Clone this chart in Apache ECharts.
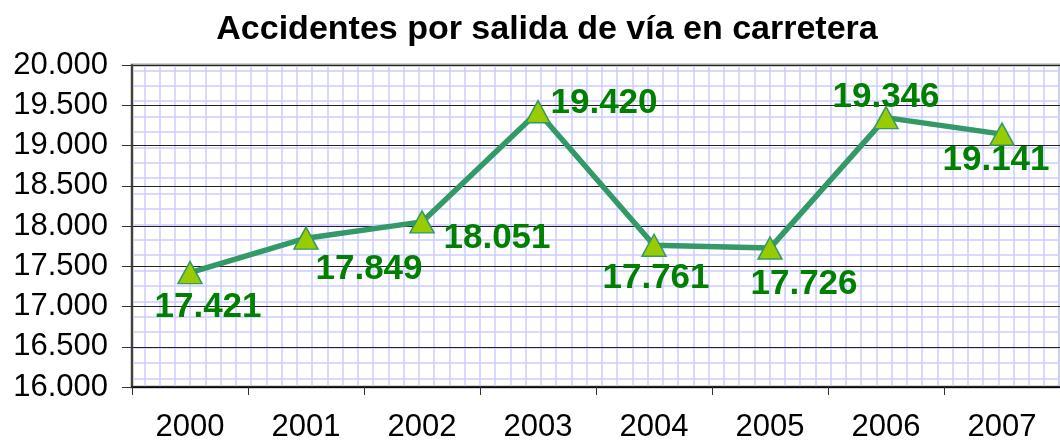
<!DOCTYPE html>
<html>
<head>
<meta charset="utf-8">
<script src="https://cdn.jsdelivr.net/npm/echarts@6/dist/echarts.min.js"></script>
<style>
  html, body { margin: 0; padding: 0; background: #fff; }
  #chart { width: 1060px; height: 443px; }
</style>
</head>
<body>
<div id="chart"></div>
<script>
// data
const years = ['2000', '2001', '2002', '2003', '2004', '2005', '2006', '2007'];
const accidents = [17421, 17849, 18051, 19420, 17761, 17726, 19346, 19141];
const yTicks = [16000, 16500, 17000, 17500, 18000, 18500, 19000, 19500, 20000];

// where each value label sits relative to its point
const labelShift = [[18, 35], [63, 31], [75, 16], [66, -8], [2, 33], [34, 36], [0, -20], [-6, 26]];

const font = 'Liberation Sans, Arial, sans-serif';
const lavender = '#ccccff';

function dots(v) {
  return String(v).replace(/\B(?=(\d{3})+(?!\d))/g, '.');
}

const chart = echarts.init(document.getElementById('chart'));

const option = {
  animation: false,
  title: {
    text: 'Accidentes por salida de vía en carretera',
    left: 542,
    textAlign: 'center',
    top: 8,
    textStyle: { fontFamily: font, fontSize: 34, fontWeight: 'bold', color: '#000' }
  },
  grid: [
    // main plot
    { left: 132, right: -9, top: 65, bottom: 55, show: true, borderColor: '#a6a6a6', borderWidth: 3, backgroundColor: 'transparent' },
    // lavender horizontal lines
    { left: 132, right: -9, top: 70.3, bottom: 64.7 },
    // lavender vertical lines
    { left: 144.3, right: -9, top: 65, bottom: 55 }
  ],
  xAxis: [
    {
      type: 'category',
      gridIndex: 0,
      data: years,
      z: 3,
      axisLine: { lineStyle: { color: '#000', width: 1.5 } },
      axisTick: { show: true, length: 8, alignWithLabel: false, lineStyle: { color: '#333' } },
      axisLabel: { fontFamily: font, fontSize: 31, color: '#000', margin: 25 },
      splitLine: { show: false }
    },
    {
      type: 'value', gridIndex: 1, min: 0, max: 10, show: true, z: 0,
      axisLine: { show: false }, axisTick: { show: false }, axisLabel: { show: false },
      splitLine: { show: false }
    },
    {
      type: 'value', gridIndex: 2, min: 0, max: 60.04, interval: 1, z: 0,
      axisLine: { show: false }, axisTick: { show: false }, axisLabel: { show: false },
      splitLine: { show: true, lineStyle: { color: lavender, width: 1.5 } }
    }
  ],
  yAxis: [
    {
      type: 'value',
      gridIndex: 0,
      min: yTicks[0],
      max: yTicks[yTicks.length - 1],
      interval: 500,
      z: 3,
      axisLine: { show: true, lineStyle: { color: '#404040', width: 2 } },
      axisTick: { show: true, length: 10, lineStyle: { color: '#333' } },
      axisLabel: { fontFamily: font, fontSize: 31, color: '#000', margin: 24, formatter: dots },
      splitLine: { show: true, lineStyle: { color: '#222', width: 1 } }
    },
    {
      type: 'value', gridIndex: 1, min: 0, max: 20, interval: 1, z: 0,
      axisLine: { show: false }, axisTick: { show: false }, axisLabel: { show: false },
      splitLine: { show: true, lineStyle: { color: lavender, width: 1.5 } }
    },
    {
      type: 'value', gridIndex: 2, min: 0, max: 10, z: 0,
      axisLine: { show: false }, axisTick: { show: false }, axisLabel: { show: false },
      splitLine: { show: false }
    }
  ],
  series: [
    {
      type: 'line',
      xAxisIndex: 0,
      yAxisIndex: 0,
      z: 5,
      data: accidents.map((v, i) => ({
        value: v,
        label: { offset: labelShift[i] }
      })),
      lineStyle: { color: '#339966', width: 5.5 },
      symbol: 'triangle',
      symbolSize: [24, 22],
      itemStyle: { color: '#99cc00', borderColor: '#339966', borderWidth: 1.5 },
      label: {
        show: true,
        position: 'inside',
        fontFamily: font,
        fontSize: 35,
        fontWeight: 'bold',
        color: '#008000',
        formatter: p => dots(p.value)
      }
    }
  ]
};

chart.setOption(option);
</script>
</body>
</html>
